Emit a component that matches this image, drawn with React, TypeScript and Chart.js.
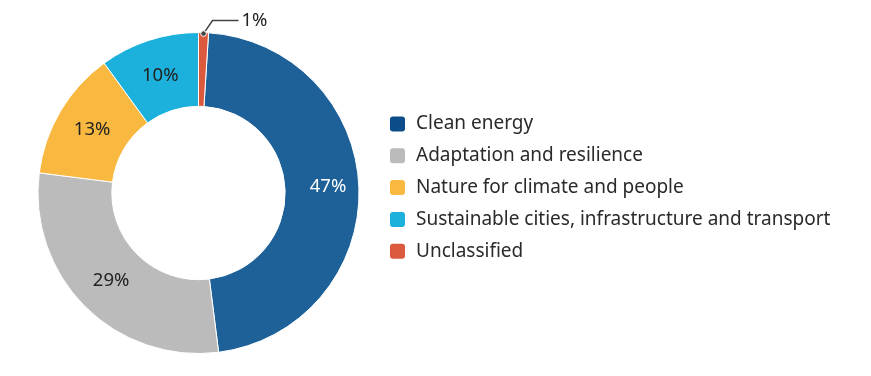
import React, { useEffect, useRef } from "react";
import { Chart, registerables } from "chart.js";

Chart.register(...registerables);

const categories = [
  "Clean energy",
  "Adaptation and resilience",
  "Nature for climate and people",
  "Sustainable cities, infrastructure and transport",
  "Unclassified",
];
const shares = [47, 29, 13, 10, 1];
const valueLabels = ["47%", "29%", "13%", "10%", "1%"];
const sliceColors = ["#1D6198", "#BBBBBB", "#F9B940", "#1BB1DC", "#DB5A3E"];
const legendColors = ["#0B4C89", "#BBBBBB", "#F9B940", "#1BB1DC", "#DB5A3E"];
const labelColors = ["#FFFFFF", "#222222", "#222222", "#222222", "#222222"];

const FONT = "'Noto Sans', sans-serif";

const labelPlugin = {
  id: "sliceLabels",
  afterDatasetsDraw(chart: any) {
    const ctx = chart.ctx;
    const meta = chart.getDatasetMeta(0);
    ctx.save();
    ctx.font = `18.5px ${FONT}`;
    ctx.textBaseline = "middle";
    meta.data.forEach((arc: any, i: number) => {
      const p = arc.getProps(["x", "y", "startAngle", "endAngle", "innerRadius", "outerRadius"], true);
      if (shares[i] < 3) {
        const mid = (p.startAngle + p.endAngle) / 2;
        const sx = p.x + Math.cos(mid) * (p.outerRadius - 1);
        const sy = p.y + Math.sin(mid) * (p.outerRadius - 1);
        const ex = sx + 9;
        const ey = sy - 13;
        ctx.strokeStyle = "#444444";
        ctx.lineWidth = 1.5;
        ctx.beginPath();
        ctx.moveTo(sx, sy);
        ctx.lineTo(ex, ey);
        ctx.lineTo(ex + 26, ey);
        ctx.stroke();
        ctx.beginPath();
        ctx.arc(sx, sy, 2.8, 0, Math.PI * 2);
        ctx.fillStyle = "#444444";
        ctx.fill();
        ctx.strokeStyle = "#FFFFFF";
        ctx.lineWidth = 1;
        ctx.stroke();
        ctx.fillStyle = "#222222";
        ctx.textAlign = "left";
        ctx.fillText(valueLabels[i], ex + 29, ey);
      } else {
        const pos = arc.tooltipPosition(true);
        ctx.fillStyle = labelColors[i];
        ctx.textAlign = "center";
        ctx.fillText(valueLabels[i], pos.x + (i === 0 ? 6 : 0), pos.y - (i === 0 ? 2 : 0));
      }
    });
    ctx.restore();
  },
};

const legendPlugin = {
  id: "customLegend",
  afterDraw(chart: any) {
    const ctx = chart.ctx;
    ctx.save();
    ctx.font = `19px ${FONT}`;
    ctx.textBaseline = "middle";
    ctx.textAlign = "left";
    const x0 = 390;
    const y0 = 124;
    const step = 31.8;
    chart.data.labels.forEach((lab: string, i: number) => {
      const y = y0 + i * step;
      ctx.fillStyle = legendColors[i];
      ctx.beginPath();
      (ctx as any).roundRect(x0, y - 7.5, 15, 15, 3);
      ctx.fill();
      ctx.fillStyle = "#2A2A2A";
      ctx.fillText(lab, x0 + 26, y);
    });
    ctx.restore();
  },
};

export default function App() {
  const ref = useRef<HTMLCanvasElement>(null);
  useEffect(() => {
    if (!ref.current) return;
    const chart = new Chart(ref.current, {
      type: "doughnut",
      data: {
        labels: categories,
        datasets: [
          {
            data: shares,
            backgroundColor: sliceColors,
            borderColor: "#FFFFFF",
            borderWidth: 1,
          },
        ],
      },
      options: {
        animation: false,
        responsive: false,
        rotation: 3.6,
        cutout: "54%",
        layout: { padding: { left: 37, right: 511, top: 32, bottom: 22 } },
        plugins: {
          legend: { display: false },
          tooltip: { enabled: false },
        },
      },
      plugins: [labelPlugin, legendPlugin],
    });
    return () => chart.destroy();
  }, []);
  return (
    <div style={{ position: "absolute", left: 0, top: 0, width: 871, height: 376, background: "#fff" }}>
      <canvas ref={ref} width={871} height={376} style={{ width: 871, height: 376 }} />
    </div>
  );
}
